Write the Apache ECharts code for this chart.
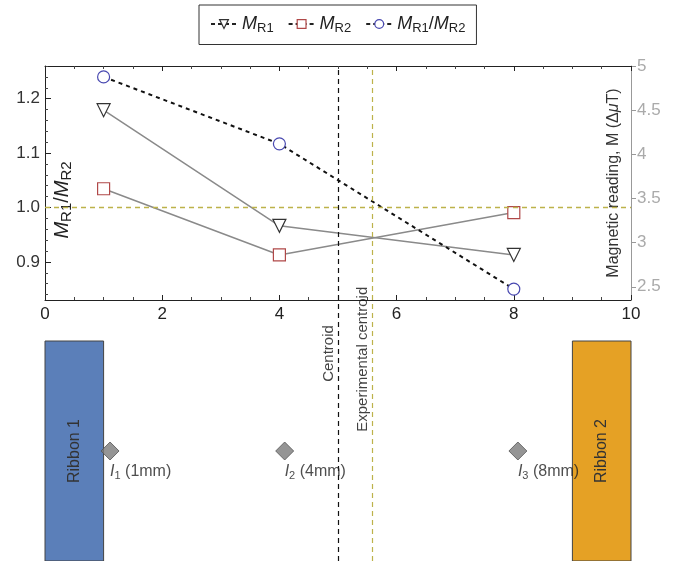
<!DOCTYPE html>
<html>
<head>
<meta charset="utf-8">
<script src="https://cdn.jsdelivr.net/npm/echarts@6/dist/echarts.min.js"></script>
<style>
  html, body { margin: 0; padding: 0; background: #fff; }
  #chart { width: 674px; height: 561px; }
</style>
</head>
<body>
<div id="chart"></div>
<script>
// distance from ribbon 1 (mm) for the three readings
const positions = [1, 4, 8];
const mR1 = [4.5, 3.19, 2.86];
const mR2 = [3.61, 2.86, 3.34];
const ratio = [1.24, 1.117, 0.85];

const ratioTicks = [0.9, 1.0, 1.1, 1.2];
const ratioMinorTicks = [0.84, 0.86, 0.88, 0.92, 0.94, 0.96, 0.98, 1.02, 1.04, 1.06, 1.08,
  1.12, 1.14, 1.16, 1.18, 1.22, 1.24, 1.26];
const readingTicks = [2.5, 3, 3.5, 4, 4.5, 5];

const centroid = 5;
const expCentroid = 5.58;

// sensors drawn in the lower sketch
const sensorX = [1.11, 4.09, 8.07];
const sensorIdx = ['1', '2', '3'];
const sensorDist = ['1mm', '4mm', '8mm'];
const ribbonNames = ['Ribbon 1', 'Ribbon 2'];
const ribbonSpans = [[0, 1], [9, 10]];

const FONT = 'Liberation Sans, Arial, sans-serif';
const mkRich = (big, small, pad) => ({
  i: { fontStyle: 'italic', fontSize: big, fontFamily: FONT, color: '#222' },
  s: { fontSize: small, fontFamily: FONT, color: '#222', verticalAlign: 'bottom', padding: [pad, 0, 0, 0] },
  n: { fontSize: big, fontFamily: FONT, color: '#222' }
});
const legendText = {
  MR1: '{i|M}{s|R1}',
  MR2: '{i|M}{s|R2}',
  ratio: '{i|M}{s|R1}{n|/}{i|M}{s|R2}'
};

const chart = echarts.init(document.getElementById('chart'));

const option = {
  animation: false,
  legend: {
    data: ['MR1', 'MR2', 'ratio'],
    left: 199, top: 5,
    padding: [10, 11],
    itemGap: 14,
    itemWidth: 26, itemHeight: 11,
    borderColor: '#333', borderWidth: 1,
    lineStyle: { color: '#222', type: [4, 3], width: 2 },
    itemStyle: { color: '#fff', borderWidth: 1.2 },
    formatter: name => legendText[name],
    textStyle: { rich: mkRich(18, 13, 8) }
  },
  grid: [
    { left: 45, right: 43, top: 66, height: 234, outerBoundsMode: 'none' },
    { left: 45, right: 43, top: 341, bottom: 0, outerBoundsMode: 'none' },
    { left: 45, right: 43, top: 66, bottom: 0, outerBoundsMode: 'none' }
  ],
  xAxis: [
    {
      type: 'value', gridIndex: 0, min: 0, max: 10, interval: 2, position: 'bottom',
      axisLine: { lineStyle: { color: '#222' } },
      axisTick: { inside: true, length: 5, lineStyle: { color: '#222' } },
      minorTick: { show: true, splitNumber: 4, length: 3, lineStyle: { color: '#444' } },
      axisLabel: { color: '#222', fontSize: 17, fontFamily: FONT, margin: 6 },
      splitLine: { show: false }
    },
    {
      type: 'value', gridIndex: 0, min: 0, max: 10, interval: 2, position: 'top',
      axisLine: { lineStyle: { color: '#222' } },
      axisTick: { inside: true, length: 5, lineStyle: { color: '#222' } },
      minorTick: { show: true, splitNumber: 4, length: 3, lineStyle: { color: '#444' } },
      axisLabel: { show: false },
      splitLine: { show: false }
    },
    {
      type: 'value', gridIndex: 1, min: 0, max: 10, position: 'top',
      axisLine: { lineStyle: { color: '#555' } },
      axisTick: { show: false }, axisLabel: { show: false }, splitLine: { show: false }
    },
    {
      type: 'value', gridIndex: 2, min: 0, max: 10, show: false
    }
  ],
  yAxis: [
    {
      type: 'value', gridIndex: 0, min: 0.83, max: 1.26, position: 'left',
      axisLine: { show: true, lineStyle: { color: '#222' } },
      axisTick: { show: true, inside: true, length: 6, customValues: ratioTicks, lineStyle: { color: '#222' } },
      axisLabel: {
        customValues: ratioTicks, formatter: v => v.toFixed(1),
        color: '#333', fontSize: 17, fontFamily: FONT, margin: 5
      },
      splitLine: { show: false },
      name: '{i|M}{s|R1}{n|/}{i|M}{s|R2}',
      nameLocation: 'middle', nameRotate: 90, nameGap: -29, nameMoveOverlap: false,
      nameTextStyle: { rich: mkRich(20, 15, 9), padding: [0, 34, 0, 0] }
    },
    {
      type: 'value', gridIndex: 0, min: 0.83, max: 1.26, position: 'left',
      axisLine: { show: false },
      axisTick: { show: true, inside: true, length: 3, customValues: ratioMinorTicks, lineStyle: { color: '#444' } },
      axisLabel: { show: false }, splitLine: { show: false }
    },
    {
      type: 'value', gridIndex: 0, min: 2.35, max: 5, position: 'right',
      axisLine: { show: true, lineStyle: { color: '#999' } },
      axisTick: { show: true, length: 5, customValues: readingTicks, lineStyle: { color: '#999' } },
      axisLabel: { customValues: readingTicks, color: '#aaa', fontSize: 17, fontFamily: FONT, margin: 6 },
      splitLine: { show: false },
      name: '{n|Magnetic reading, M (\u0394}{i|\u03bc}{n|T)}',
      nameLocation: 'middle', nameRotate: 90, nameGap: -25, nameMoveOverlap: false,
      nameTextStyle: { rich: {
        n: { fontSize: 16, fontFamily: FONT, color: '#333' },
        i: { fontSize: 16, fontFamily: FONT, color: '#333', fontStyle: 'italic' }
      } }
    },
    { type: 'value', gridIndex: 1, min: 0, max: 1, show: false },
    { type: 'value', gridIndex: 2, min: 0, max: 1, show: false }
  ],
  series: [
    {
      name: 'MR1', type: 'line', xAxisIndex: 0, yAxisIndex: 2,
      data: positions.map((x, i) => [x, mR1[i]]),
      symbol: 'triangle', symbolRotate: 180, symbolSize: 13,
      lineStyle: { color: '#8a8a8a', width: 1.5 },
      itemStyle: { color: '#fff', borderColor: '#333', borderWidth: 1.2 },
      z: 3
    },
    {
      name: 'MR2', type: 'line', xAxisIndex: 0, yAxisIndex: 2,
      data: positions.map((x, i) => [x, mR2[i]]),
      symbol: 'rect', symbolSize: 12,
      lineStyle: { color: '#8a8a8a', width: 1.5 },
      itemStyle: { color: '#fff', borderColor: '#b04848', borderWidth: 1.2 },
      z: 3
    },
    {
      name: 'ratio', type: 'line', xAxisIndex: 0, yAxisIndex: 0,
      data: positions.map((x, i) => [x, ratio[i]]),
      symbol: 'circle', symbolSize: 12,
      lineStyle: { color: '#111', width: 2, type: [4, 4] },
      itemStyle: { color: '#fff', borderColor: '#4848b0', borderWidth: 1.2 },
      z: 4,
      markLine: {
        silent: true, symbol: 'none', label: { show: false },
        emphasis: { disabled: true },
        data: [{ yAxis: 1.0, lineStyle: { color: '#bdb24a', type: [5, 4], width: 1.3, opacity: 1 } }]
      }
    },
    {
      name: 'sensors', type: 'scatter', xAxisIndex: 2, yAxisIndex: 3,
      data: sensorX.map((x, i) => ({
        value: [x, 0.5],
        label: { formatter: '{i|I}{s|' + sensorIdx[i] + '}{n| (' + sensorDist[i] + ')}' }
      })),
      symbol: 'diamond', symbolSize: 18,
      itemStyle: { color: '#7a7a7a', borderColor: '#555', borderWidth: 1 },
      label: {
        show: true, position: 'inside', align: 'left', verticalAlign: 'middle', offset: [0, 21],
        rich: mkRich(16, 11, 7)
      },
      z: 5,
      markArea: {
        silent: true,
        itemStyle: { borderColor: '#444', borderWidth: 1 },
        label: {
          show: true, position: 'inside', rotate: 90,
          color: '#333', fontSize: 16, fontFamily: FONT
        },
        data: ribbonSpans.map((s, i) => [
          { name: ribbonNames[i], xAxis: s[0], itemStyle: { color: i === 0 ? '#5b7fb9' : '#e5a125' } },
          { xAxis: s[1] }
        ])
      }
    },
    {
      name: 'centroids', type: 'scatter', xAxisIndex: 3, yAxisIndex: 4,
      symbolSize: 0,
      data: [
        { value: [centroid, 0.362], label: { formatter: 'Centroid' } },
        { value: [expCentroid, 0.261], label: { formatter: 'Experimental centroid' } }
      ],
      label: {
        show: true, position: 'inside', rotate: 90, align: 'left', verticalAlign: 'bottom',
        color: '#111', fontSize: 15, fontFamily: FONT, offset: [0, -2]
      },
      z: 6,
      markLine: {
        silent: true, symbol: 'none', label: { show: false },
        data: [
          { xAxis: centroid, lineStyle: { color: '#111', type: [5, 4], width: 1.2 } },
          { xAxis: expCentroid, lineStyle: { color: '#bdb24a', type: [5, 4], width: 1.2 } }
        ]
      }
    }
  ]
};

chart.setOption(option);
</script>
</body>
</html>
